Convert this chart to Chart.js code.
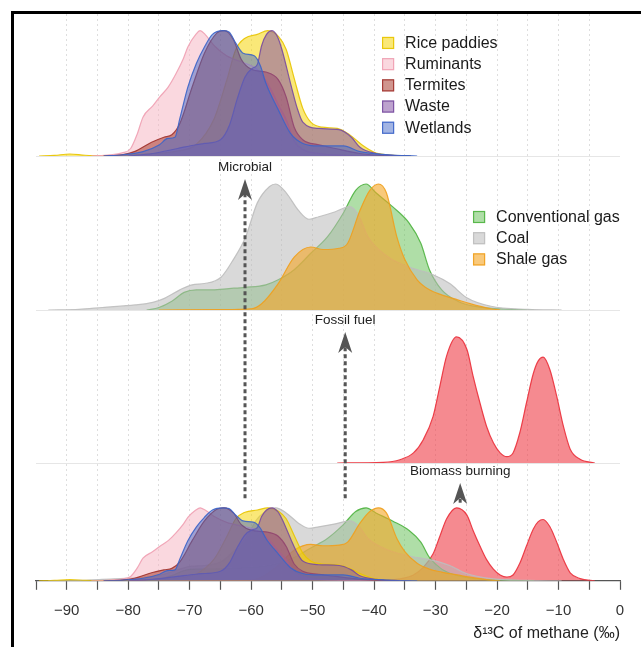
<!DOCTYPE html>
<html>
<head>
<meta charset="utf-8">
<script src="https://cdn.jsdelivr.net/npm/chart.js@4.4.1/dist/chart.umd.min.js"></script>
<style>
  html, body { margin: 0; padding: 0; background: #fff; overflow: hidden; }
  #wrap { position: relative; width: 641px; height: 647px; }
  #frame { position: absolute; left: 11px; top: 11px; right: 0; bottom: 0;
           border-left: 3px solid #000; border-top: 3px solid #000; pointer-events: none; }
</style>
</head>
<body>
<div id="wrap"><canvas id="chart"></canvas><div id="frame"></div></div>
<script>
  // Dichtheden per bron, elk geschaald op max = 1. Punten: [δ13C, dichtheid]
  const ricePaddies = [[-94.5,0],[-92,0.005],[-89.5,0.016],[-87,0.006],[-84,0.003],[-80,0.008],[-76,0.02],
    [-72,0.04],[-69,0.09],[-66,0.3],[-64,0.6],[-62.5,0.85],[-61,0.94],[-59,0.97],[-57.3,1.0],[-55.5,0.95],
    [-54.3,0.85],[-53,0.62],[-51.6,0.38],[-50.3,0.27],[-48.5,0.23],[-46,0.22],[-44,0.17],[-42,0.09],
    [-40,0.03],[-38,0.01],[-34,0]];
  const ruminants = [[-86,0],[-83,0.01],[-81,0.025],[-79.6,0.06],[-78.5,0.18],[-77.6,0.31],[-76,0.4],
    [-74.9,0.47],[-73.5,0.55],[-72.3,0.65],[-71,0.78],[-70.3,0.87],[-69,0.97],[-68.3,1.0],[-67.5,0.97],
    [-66,0.88],[-64,0.8],[-61,0.74],[-59,0.69],[-57,0.55],[-55.5,0.4],[-54.3,0.29],[-53,0.12],
    [-51.5,0.05],[-49,0.02],[-45,0.005],[-40,0]];
  const termites = [[-84,0],[-81,0.01],[-79,0.035],[-76.2,0.11],[-74.2,0.15],[-72.9,0.17],[-71.6,0.26],
    [-69.6,0.55],[-67.6,0.82],[-65.6,0.98],[-64.4,1.0],[-62.9,0.93],[-61.6,0.77],[-59.9,0.69],[-57.6,0.67],
    [-55.6,0.61],[-54.3,0.47],[-53,0.23],[-51.6,0.13],[-49,0.09],[-46.3,0.06],[-42.3,0.02],[-39,0.005],[-36,0]];
  const waste = [[-80,0],[-76,0.02],[-72,0.06],[-69,0.09],[-67.6,0.1],[-65,0.13],[-63.5,0.25],[-62.3,0.45],
    [-61,0.63],[-59.8,0.7],[-59,0.73],[-58.3,0.88],[-57.5,0.97],[-56.6,1.0],[-55.7,0.95],[-55,0.85],
    [-53.6,0.58],[-52.5,0.38],[-51.6,0.27],[-49,0.22],[-45.7,0.21],[-43.7,0.15],[-42.3,0.07],[-39.7,0.02],
    [-37,0.005],[-34,0]];
  const wetlands = [[-84,0],[-80.9,0.01],[-77.6,0.035],[-74.9,0.09],[-73.6,0.14],[-72.4,0.15],[-71.6,0.3],
    [-70.3,0.55],[-68.9,0.74],[-67.6,0.87],[-66.3,0.97],[-64.6,1.0],[-63.6,0.99],[-62.5,0.9],[-61.3,0.82],
    [-59.5,0.8],[-58.5,0.72],[-57.6,0.58],[-55.6,0.37],[-53.6,0.18],[-51.6,0.1],[-49,0.08],[-45,0.08],
    [-42.3,0.035],[-37.7,0.01],[-33,0]];

  const conventionalGas = [[-77,0],[-75,0.02],[-72.9,0.07],[-70.9,0.14],[-68.9,0.16],[-66.3,0.16],
    [-63.6,0.17],[-61,0.18],[-57.6,0.2],[-55.6,0.24],[-53,0.32],[-50.3,0.45],[-47.6,0.58],[-45,0.77],
    [-43,0.95],[-41.3,1.0],[-39.7,0.93],[-37,0.82],[-34.3,0.69],[-32.4,0.53],[-31,0.32],[-29,0.16],
    [-26.4,0.07],[-23.7,0.03],[-17.7,0.005],[-14,0]];
  const coal = [[-93,0],[-88,0.005],[-84.2,0.02],[-78.9,0.04],[-76,0.06],[-74.2,0.09],[-71.6,0.16],
    [-69.6,0.2],[-67.6,0.21],[-64.9,0.26],[-62.9,0.4],[-60.9,0.58],[-59,0.85],[-57,0.98],[-56,1.0],
    [-54.3,0.93],[-52.3,0.79],[-50.6,0.72],[-49,0.74],[-46.3,0.78],[-44,0.82],[-42.5,0.75],[-41,0.58],
    [-37.7,0.42],[-34.3,0.34],[-30.4,0.28],[-27.7,0.21],[-25,0.1],[-21,0.03],[-15,0.005],[-9.5,0]];
  const shaleGas = [[-75,0],[-65,0.003],[-60,0.01],[-58.3,0.05],[-55.6,0.21],[-53,0.42],[-50.3,0.5],
    [-48.3,0.48],[-45.7,0.49],[-44.3,0.53],[-42.3,0.79],[-40.7,0.95],[-39.3,1.0],[-38,0.93],[-36.3,0.58],
    [-35,0.4],[-33,0.24],[-31,0.16],[-29,0.12],[-26.4,0.08],[-24.4,0.05],[-21,0.01],[-19.5,0]];

  const biomassBurning = [[-46,0],[-38.5,0.005],[-35.8,0.026],[-33.6,0.08],[-32,0.185],[-30.4,0.37],
    [-29.3,0.61],[-28.2,0.85],[-26.6,1.0],[-24.9,0.9],[-23.9,0.69],[-22.8,0.48],[-21.7,0.29],[-20.6,0.16],
    [-19.5,0.08],[-18.4,0.05],[-17.4,0.08],[-16.3,0.24],[-15.2,0.48],[-14.1,0.71],[-13.3,0.81],[-12.5,0.84],
    [-11.4,0.74],[-10.3,0.53],[-9.2,0.29],[-8.1,0.11],[-6.5,0.03],[-4.1,0]];

  const microbialSources = [['Rice paddies', ricePaddies], ['Ruminants', ruminants], ['Termites', termites],
    ['Waste', waste], ['Wetlands', wetlands]];
  const fossilSources = [['Conventional gas', conventionalGas], ['Coal', coal], ['Shale gas', shaleGas]];
  const burningSources = [['Biomass burning', biomassBurning]];

  const xTicksFrom = -95, xTicksTo = 0, xTickStep = 5;

  const FONT = '"Liberation Sans", Arial, Helvetica, sans-serif';

  const palette = {
    'Rice paddies':     { fill: 'rgba(246, 214, 10, 0.55)',  line: 'rgba(232, 196, 0, 0.9)' },
    'Ruminants':        { fill: 'rgba(246, 178, 192, 0.5)',  line: 'rgba(240, 160, 178, 0.9)' },
    'Termites':         { fill: 'rgba(170, 62, 50, 0.55)',   line: 'rgba(160, 50, 45, 0.9)' },
    'Waste':            { fill: 'rgba(135, 85, 165, 0.55)',  line: 'rgba(120, 75, 160, 0.9)' },
    'Wetlands':         { fill: 'rgba(70, 105, 200, 0.5)',   line: 'rgba(60, 100, 200, 0.9)' },
    'Conventional gas': { fill: 'rgba(95, 190, 80, 0.5)',    line: 'rgba(80, 180, 65, 0.9)' },
    'Coal':             { fill: 'rgba(185, 185, 185, 0.55)', line: 'rgba(190, 190, 190, 0.9)' },
    'Shale gas':        { fill: 'rgba(245, 165, 35, 0.6)',   line: 'rgba(240, 160, 30, 0.9)' },
    'Biomass burning':  { fill: 'rgba(238, 60, 70, 0.6)',    line: 'rgba(235, 55, 65, 0.95)' },
  };

  // rij-panelen: hoogte (stackWeight) en bovengrens van de dichtheid-as
  const rows = [
    { id: 'yMicro',  max: 1.133, weight: 142 },
    { id: 'yFossil', max: 1.222, weight: 154 },
    { id: 'yBurn',   max: 1.214, weight: 153 },
    { id: 'yAll',    max: 1.614, weight: 117.8 },
  ];

  const legendSpots = [
    { sources: microbialSources, at: -38.7, axis: 'yMicro', value: 0.902 },
    { sources: fossilSources, at: -23.9, axis: 'yFossil', value: 0.738 },
  ];

  const arrowMarks = [
    { text: 'Microbial', at: -61, tip: ['yFossil', 1.04], tail: ['yAll', 1.13] },
    { text: 'Fossil fuel', at: -44.7, tip: ['yBurn', 1.04], tail: ['yAll', 1.13] },
    { text: 'Biomass burning', at: -26, tip: ['yAll', 1.34], tail: ['yAll', 1.07] },
  ];

  function ridge(name, points, axis) {
    const c = palette[name];
    return {
      label: name,
      data: points.map((p) => ({ x: p[0], y: p[1] })),
      yAxisID: axis,
      borderColor: c.line,
      backgroundColor: c.fill,
      borderWidth: 1.2,
      fill: 'origin',
      pointRadius: 0,
      cubicInterpolationMode: 'monotone',
    };
  }

  // lijst van onder naar boven getekend; Chart.js tekent index 0 bovenop, dus omdraaien
  const datasets = [
    ...microbialSources.map(([n, p]) => ridge(n, p, 'yMicro')),
    ...fossilSources.map(([n, p]) => ridge(n, p, 'yFossil')),
    ...burningSources.map(([n, p]) => ridge(n, p, 'yBurn')),
    ...burningSources.map(([n, p]) => ridge(n, p, 'yAll')),
    ...fossilSources.map(([n, p]) => ridge(n, p, 'yAll')),
    ...microbialSources.map(([n, p]) => ridge(n, p, 'yAll')),
  ].reverse();

  function rowAxis(r, i) {
    return {
      type: 'linear',
      position: 'left',
      stack: 'rows',
      stackWeight: r.weight,
      weight: rows.length - i,
      min: 0,
      max: r.max,
      ticks: { display: false },
      border: { display: false },
      grid: {
        drawTicks: false,
        color: (c) => (c.tick && c.tick.value === 0 ? '#e6e6e6' : 'rgba(0,0,0,0)'),
      },
    };
  }

  const scales = {
    x: {
      type: 'linear',
      position: 'bottom',
      min: xTicksFrom,
      max: xTicksTo,
      ticks: {
        stepSize: xTickStep,
        autoSkip: false,
        maxRotation: 0,
        padding: 12,
        color: '#333',
        font: { family: FONT, size: 15 },
        callback: (v) => (v % 10 === 0 ? (v < 0 ? '\u2212' + (-v) : String(v)) : ''),
      },
      grid: {
        color: (c) => (c.tick && (c.tick.value === xTicksFrom || c.tick.value === xTicksTo) ? 'rgba(0,0,0,0)' : '#dedede'),
        lineWidth: 1,
        tickLength: 9,
        tickColor: '#555',
        tickWidth: 1.2,
        tickBorderDash: [],
      },
      border: { display: true, color: '#555', width: 1.2, dash: [2, 3] },
      title: {
        display: true,
        text: '\u03b4\u00b9\u00b3C of methane (\u2030)',
        align: 'end',
        color: '#222',
        font: { family: FONT, size: 16 },
        padding: { top: -8, bottom: 4 },
      },
    },
  };
  rows.forEach((r, i) => { scales[r.id] = rowAxis(r, i); });

  const annotations = {
    id: 'annotations',
    afterDatasetsDraw(chart) {
      const { ctx } = chart;
      const sx = chart.scales.x;
      ctx.save();

      // legenda's in de panelen
      legendSpots.forEach((spot) => {
        const x0 = sx.getPixelForValue(spot.at);
        const y0 = chart.scales[spot.axis].getPixelForValue(spot.value);
        spot.sources.forEach(([name], i) => {
          const cy = y0 + i * 21.2;
          const c = palette[name];
          ctx.fillStyle = '#fff';
          ctx.fillRect(x0, cy - 6, 12, 12);
          ctx.fillStyle = c.fill;
          ctx.fillRect(x0, cy - 6, 12, 12);
          ctx.strokeStyle = c.line;
          ctx.lineWidth = 1.2;
          ctx.strokeRect(x0 + 0.5, cy - 5.5, 11, 11);
          ctx.fillStyle = '#1a1a1a';
          ctx.font = '16px ' + FONT;
          ctx.textAlign = 'left';
          ctx.textBaseline = 'middle';
          ctx.fillText(name, x0 + 23, cy + 0.5);
        });
      });

      // gestippelde pijlen met labels
      arrowMarks.forEach((a) => {
        const px = sx.getPixelForValue(a.at);
        const ty = chart.scales[a.tip[0]].getPixelForValue(a.tip[1]);
        const by = chart.scales[a.tail[0]].getPixelForValue(a.tail[1]);
        const headLen = 21, headHalf = 7, notch = 15;
        ctx.strokeStyle = '#555';
        ctx.lineWidth = 3;
        ctx.setLineDash([4, 3]);
        ctx.beginPath();
        ctx.moveTo(px, by);
        ctx.lineTo(px, ty + notch);
        ctx.stroke();
        ctx.setLineDash([]);
        ctx.fillStyle = '#555';
        ctx.beginPath();
        ctx.moveTo(px, ty);
        ctx.lineTo(px + headHalf, ty + headLen);
        ctx.lineTo(px, ty + notch);
        ctx.lineTo(px - headHalf, ty + headLen);
        ctx.closePath();
        ctx.fill();
        ctx.fillStyle = '#222';
        ctx.font = '13.5px ' + FONT;
        ctx.textAlign = 'center';
        ctx.textBaseline = 'middle';
        ctx.fillText(a.text, px, ty - 12);
      });
      ctx.restore();
    },
  };

  new Chart(document.getElementById('chart'), {
    type: 'line',
    data: { datasets },
    options: {
      responsive: true,
      maintainAspectRatio: false,
      animation: false,
      events: [],
      layout: { padding: { top: 14, left: 36, right: 21, bottom: 0 } },
      plugins: { legend: { display: false }, tooltip: { enabled: false } },
      scales,
    },
    plugins: [annotations],
  });
</script>
</body>
</html>
